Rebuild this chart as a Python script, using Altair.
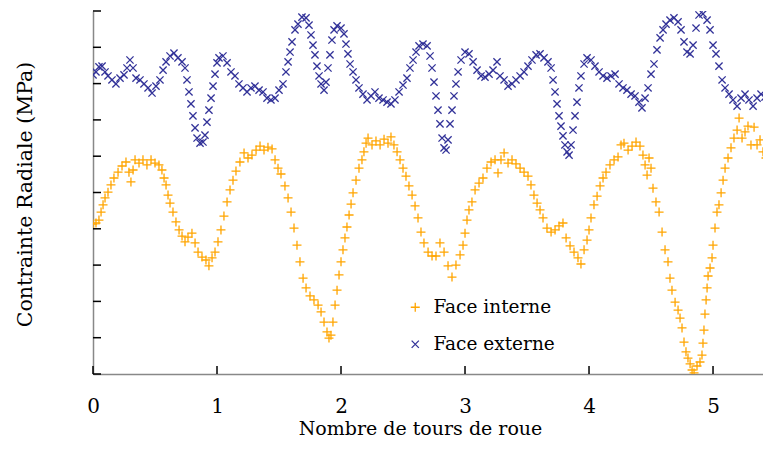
import altair as alt
import pandas as pd

series_names = ["Face interne", "Face externe"]
series_colors = ["#FFA500", "#333399"]

inner_x = [0.000,0.024,0.048,0.065,0.081,0.097,0.121,0.145,0.169,0.202,
0.234,0.266,0.290,0.306,0.323,0.339,0.371,0.403,0.435,0.468,
0.500,0.532,0.556,0.573,0.589,0.605,0.621,0.645,0.669,0.694,
0.718,0.742,0.766,0.798,0.823,0.847,0.879,0.911,0.935,0.960,
0.984,1.008,1.032,1.056,1.081,1.105,1.129,1.153,1.185,1.218,
1.250,1.282,1.315,1.347,1.379,1.411,1.444,1.468,1.492,1.516,
1.548,1.573,1.597,1.621,1.645,1.669,1.694,1.718,1.750,1.782,
1.815,1.839,1.863,1.887,1.903,1.919,1.935,1.952,1.968,1.984,
2.000,2.016,2.032,2.048,2.065,2.081,2.097,2.121,2.145,2.169,
2.185,2.202,2.218,2.250,2.282,2.315,2.347,2.379,2.403,2.427,
2.452,2.476,2.500,2.524,2.548,2.573,2.597,2.621,2.645,2.669,
2.702,2.734,2.766,2.798,2.831,2.863,2.895,2.927,2.960,2.984,
3.000,3.016,3.032,3.056,3.081,3.113,3.145,3.177,3.210,3.242,
3.266,3.290,3.315,3.347,3.379,3.411,3.444,3.476,3.508,3.532,
3.556,3.581,3.605,3.629,3.661,3.694,3.726,3.758,3.790,3.815,
3.847,3.879,3.911,3.935,3.960,3.984,4.000,4.016,4.040,4.065,
4.089,4.113,4.137,4.169,4.202,4.234,4.258,4.282,4.315,4.347,
4.379,4.411,4.435,4.452,4.468,4.484,4.500,4.516,4.540,4.565,
4.589,4.613,4.637,4.653,4.669,4.694,4.718,4.734,4.750,4.766,
4.782,4.798,4.815,4.831,4.847,4.871,4.895,4.911,4.919,4.927,
4.935,4.944,4.952,4.960,4.976,4.992,5.000,5.016,5.032,5.048,
5.065,5.081,5.097,5.121,5.145,5.169,5.194,5.210,5.234,5.258,
5.282,5.306,5.331,5.355,5.379,5.403,5.427,5.452]

inner_y = [4.13,4.16,4.24,4.46,4.66,4.85,5.01,5.21,5.40,5.56,
5.73,5.84,5.56,5.29,5.62,5.90,5.81,5.90,5.76,5.90,
5.81,5.76,5.62,5.40,5.21,4.93,4.71,4.46,4.19,3.97,
3.80,3.64,3.77,3.88,3.61,3.36,3.22,3.14,2.98,3.20,
3.36,3.64,3.97,4.35,4.74,5.07,5.34,5.59,5.84,6.09,
5.95,6.03,6.17,6.28,6.17,6.25,6.20,5.90,5.67,5.51,
5.18,4.85,4.46,4.02,3.55,3.09,2.64,2.37,2.15,2.04,
1.90,1.71,1.43,1.16,0.99,1.07,1.43,1.90,2.31,2.73,
3.09,3.42,3.75,4.05,4.38,4.68,4.99,5.34,5.67,5.90,
6.12,6.36,6.50,6.31,6.42,6.31,6.47,6.36,6.53,6.31,
6.12,5.90,5.67,5.45,5.18,4.93,4.63,4.30,3.91,3.61,
3.36,3.25,3.25,3.61,3.36,2.98,2.67,3.00,3.28,3.55,
3.88,4.24,4.52,4.74,5.07,5.26,5.40,5.67,5.84,5.90,
5.54,5.90,6.09,5.81,5.90,5.79,5.67,5.56,5.45,5.21,
4.93,4.71,4.52,4.30,4.02,3.91,3.97,4.08,4.16,3.75,
3.53,3.36,3.20,3.03,3.42,3.69,3.97,4.30,4.66,4.90,
5.18,5.40,5.56,5.76,5.90,5.98,6.31,6.36,6.17,6.28,
6.39,6.28,6.03,5.76,5.48,5.95,5.67,5.12,4.74,4.46,
3.91,3.42,3.09,2.64,2.31,1.98,1.76,1.54,1.27,0.88,
0.61,0.44,0.28,0.11,0.03,0.22,0.33,0.52,0.85,1.21,
1.65,2.04,2.37,2.70,2.92,3.20,3.55,4.02,4.46,4.66,
4.99,5.34,5.67,5.95,6.23,6.50,6.72,7.05,6.50,6.67,
6.83,6.31,6.80,6.31,6.45,6.12,5.95,5.84]

outer_x = [0.000,0.024,0.048,0.073,0.097,0.121,0.153,0.185,0.218,0.250,
0.274,0.298,0.323,0.347,0.379,0.411,0.444,0.476,0.508,0.540,
0.565,0.589,0.621,0.653,0.685,0.718,0.742,0.758,0.774,0.790,
0.806,0.823,0.839,0.863,0.887,0.903,0.919,0.935,0.952,0.968,
0.984,1.000,1.016,1.048,1.081,1.113,1.145,1.177,1.210,1.242,
1.274,1.306,1.339,1.371,1.403,1.435,1.468,1.500,1.532,1.556,
1.573,1.589,1.605,1.629,1.653,1.685,1.718,1.742,1.758,1.774,
1.790,1.806,1.823,1.839,1.863,1.879,1.895,1.911,1.927,1.944,
1.968,2.000,2.024,2.040,2.056,2.073,2.097,2.121,2.145,2.177,
2.210,2.242,2.274,2.306,2.339,2.371,2.403,2.435,2.468,2.500,
2.532,2.556,2.581,2.605,2.629,2.661,2.694,2.718,2.734,2.750,
2.766,2.782,2.798,2.815,2.831,2.847,2.863,2.879,2.895,2.911,
2.927,2.944,2.968,3.000,3.032,3.065,3.097,3.129,3.161,3.194,
3.226,3.258,3.282,3.315,3.347,3.379,3.411,3.444,3.476,3.508,
3.540,3.573,3.605,3.637,3.669,3.694,3.710,3.726,3.742,3.758,
3.774,3.790,3.806,3.823,3.839,3.855,3.871,3.887,3.903,3.919,
3.935,3.960,3.984,4.016,4.048,4.081,4.113,4.145,4.177,4.210,
4.242,4.274,4.306,4.339,4.371,4.403,4.427,4.452,4.476,4.500,
4.524,4.548,4.573,4.597,4.621,4.653,4.685,4.718,4.742,4.766,
4.790,4.815,4.839,4.863,4.887,4.919,4.952,4.976,5.000,5.024,
5.048,5.073,5.097,5.129,5.161,5.194,5.226,5.258,5.290,5.323,
5.355,5.387,5.419,5.452]

outer_y = [8.24,8.32,8.46,8.48,8.32,8.21,8.10,7.99,8.15,8.24,
8.43,8.65,8.43,8.15,8.10,7.99,7.88,7.74,7.93,8.10,
8.37,8.60,8.76,8.84,8.71,8.60,8.43,8.10,7.77,7.44,
7.11,6.78,6.50,6.36,6.39,6.58,6.94,7.27,7.60,7.93,
8.26,8.57,8.71,8.76,8.57,8.32,8.21,7.99,7.88,7.77,
7.88,7.93,7.82,7.77,7.60,7.55,7.60,7.82,7.99,8.32,
8.60,8.87,9.15,9.48,9.64,9.83,9.81,9.61,9.34,9.06,
8.79,8.48,8.21,7.99,7.82,8.04,8.43,8.79,9.20,9.48,
9.59,9.53,9.37,9.09,8.82,8.54,8.32,8.10,7.88,7.71,
7.55,7.66,7.77,7.60,7.55,7.49,7.44,7.55,7.77,7.96,
8.15,8.43,8.65,8.87,9.04,9.09,9.04,8.76,8.43,8.04,
7.66,7.27,6.89,6.50,6.23,6.17,6.45,6.89,7.27,7.66,
7.99,8.32,8.65,8.87,8.82,8.60,8.37,8.21,8.18,8.26,
8.37,8.60,8.21,8.10,7.93,7.99,8.10,8.21,8.32,8.48,
8.65,8.79,8.82,8.71,8.60,8.43,8.10,7.77,7.44,7.11,
6.83,6.56,6.31,6.12,6.03,6.31,6.72,7.11,7.49,7.88,
8.21,8.54,8.71,8.65,8.48,8.32,8.21,8.15,8.21,8.26,
7.99,7.88,7.82,7.71,7.66,7.49,7.33,7.60,7.88,8.26,
8.54,8.93,9.26,9.48,9.64,9.75,9.81,9.70,9.48,9.15,
8.87,8.82,9.06,9.53,9.89,9.92,9.75,9.48,9.06,8.82,
8.48,8.10,7.88,7.71,7.55,7.38,7.60,7.71,7.55,7.38,
7.60,7.71,7.63,7.71]

x_ticks = [0, 1, 2, 3, 4, 5]
y_ticks = [0, 1, 2, 3, 4, 5, 6, 7, 8, 9, 10]

PLUS = "M-1,0L1,0M0,-1L0,1"
CROSS = "M-0.8,-0.8L0.8,0.8M-0.8,0.8L0.8,-0.8"
FONT = "DejaVu Serif"

df = pd.concat([
    pd.DataFrame({"x": inner_x, "y": inner_y, "series": series_names[0]}),
    pd.DataFrame({"x": outer_x, "y": outer_y, "series": series_names[1]}),
])

xscale = alt.Scale(domain=[0, 5.403], nice=False, zero=False)
yscale = alt.Scale(domain=[0, 10], nice=False, zero=False)

x_axis = alt.Axis(
    values=x_ticks, format="d", title="Nombre de tours de roue",
    ticks=False, tickSize=0, grid=False, labelPadding=32, labelBaseline="middle",
    labelFlush=False, labelFont=FONT, labelFontSize=20, labelColor="black",
    titleFont=FONT, titleFontSize=19, titleFontWeight="normal", titleColor="black",
    titleX=327, titleY=54, titleBaseline="middle",
    domainColor="#888888", domainWidth=1.5)

y_axis = alt.Axis(
    labels=False, ticks=False, tickSize=0, grid=False,
    title="Contrainte Radiale (MPa)", titleFont=FONT, titleFontSize=20.5,
    titleFontWeight="normal", titleColor="black",
    titleX=-68, titleY=183, titleAlign="center", titleBaseline="middle", titleAngle=270,
    domainColor="#888888", domainWidth=1.5)

legend = alt.Legend(
    title=None, orient="none", legendX=313, legendY=287, direction="vertical",
    labelFont=FONT, labelFontSize=18.5, labelColor="black", labelOffset=9,
    rowPadding=18, padding=0, symbolSize=81, symbolStrokeWidth=1.3,
)

points = alt.Chart(df).mark_point(filled=False, strokeWidth=1.3, opacity=1, size=81, clip=True).encode(
    x=alt.X("x:Q", scale=xscale, axis=x_axis),
    y=alt.Y("y:Q", scale=yscale, axis=y_axis),
    color=alt.Color("series:N", scale=alt.Scale(domain=series_names, range=series_colors), legend=legend),
    shape=alt.Shape("series:N", scale=alt.Scale(domain=series_names, range=[PLUS, CROSS]), legend=legend),
)

ytick_rules = alt.Chart(pd.DataFrame({"y": y_ticks})).mark_rule(color="black", strokeWidth=1.5).encode(
    y=alt.Y("y:Q", scale=yscale, axis=y_axis),
    x=alt.value(0), x2=alt.value(8),
)

xtick_rules = alt.Chart(pd.DataFrame({"x": x_ticks})).mark_rule(color="black", strokeWidth=1.5).encode(
    x=alt.X("x:Q", scale=xscale, axis=x_axis),
    y=alt.value(363), y2=alt.value(355),
)

chart = alt.layer(points, ytick_rules, xtick_rules).properties(
    width=670, height=363,
    autosize=alt.AutoSizeParams(type="none"),
    padding={"left": 85, "top": 3, "right": 0, "bottom": 66},
).configure(font=FONT).configure_view(stroke=None)

chart.save("out.html", embed_options={"renderer": "svg", "actions": False})
